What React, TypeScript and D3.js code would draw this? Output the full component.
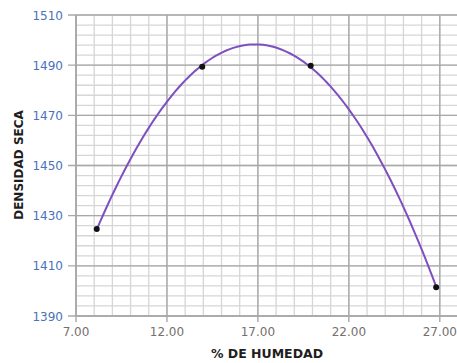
import React from "react";
import * as d3 from "d3";

// moisture (%) vs dry density readings
const humedad = [8.14, 13.94, 19.9, 26.8];
const densidad = [1424.7, 1489.4, 1489.8, 1401.5];

const xTicks = [7, 12, 17, 22, 27];
const yTicks = [1390, 1410, 1430, 1450, 1470, 1490, 1510];

// least squares fit of a 2nd order polynomial (the chart's trendline)
function fitQuadratic(xs: number[], ys: number[]) {
  const n = xs.length;
  let s1 = 0, s2 = 0, s3 = 0, s4 = 0, t0 = 0, t1 = 0, t2 = 0;
  for (let i = 0; i < n; i++) {
    const x = xs[i], y = ys[i];
    s1 += x; s2 += x * x; s3 += x ** 3; s4 += x ** 4;
    t0 += y; t1 += x * y; t2 += x * x * y;
  }
  const m = [
    [n, s1, s2, t0],
    [s1, s2, s3, t1],
    [s2, s3, s4, t2],
  ];
  for (let c = 0; c < 3; c++) {
    for (let r = c + 1; r < 3; r++) {
      const f = m[r][c] / m[c][c];
      for (let k = c; k < 4; k++) m[r][k] -= f * m[c][k];
    }
  }
  const coef = [0, 0, 0];
  for (let r = 2; r >= 0; r--) {
    let s = m[r][3];
    for (let k = r + 1; k < 3; k++) s -= m[r][k] * coef[k];
    coef[r] = s / m[r][r];
  }
  return (x: number) => coef[0] + coef[1] * x + coef[2] * x * x;
}

const App = () => {
  const width = 457;
  const height = 363;

  const x = d3.scaleLinear().domain([7, 28]).range([76, 458]);
  const y = d3.scaleLinear().domain([1390, 1510]).range([316, 15]);

  const minorX = d3.range(7, 29, 1);
  const minorY = d3.range(1390, 1511, 4);

  const trend = fitQuadratic(humedad, densidad);
  const [x0, x1] = d3.extent(humedad) as [number, number];
  const curvePts = d3.range(0, 101).map((i) => {
    const v = x0 + ((x1 - x0) * i) / 100;
    return [v, trend(v)] as [number, number];
  });
  const line = d3
    .line<[number, number]>()
    .x((d) => x(d[0]))
    .y((d) => y(d[1]));

  const [px0, px1] = x.range();
  const [py0, py1] = y.range();

  return (
    <svg
      width={width}
      height={height}
      style={{ position: "absolute", left: 0, top: 0, background: "#fff" }}
    >
      {/* minor grid */}
      <g stroke="#d6d6d6" strokeWidth={1.3}>
        {minorX.map((v) => (
          <line key={"mx" + v} x1={x(v)} x2={x(v)} y1={py1} y2={py0} />
        ))}
        {minorY.map((v) => (
          <line key={"my" + v} x1={px0} x2={px1} y1={y(v)} y2={y(v)} />
        ))}
      </g>
      {/* major grid with tick marks past the axes */}
      <g stroke="#a8a8a8" strokeWidth={1.4}>
        {xTicks.map((v) => (
          <line key={"Mx" + v} x1={x(v)} x2={x(v)} y1={py1} y2={py0 + 6} />
        ))}
        {yTicks.map((v) => (
          <line key={"My" + v} x1={px0 - 8} x2={px1} y1={y(v)} y2={y(v)} />
        ))}
      </g>
      <line x1={px0} x2={px0} y1={py1} y2={py0} stroke="#a8a8a8" strokeWidth={1.6} />
      <line x1={px0} x2={px1} y1={py0} y2={py0} stroke="#a8a8a8" strokeWidth={1.6} />

      {/* tick labels */}
      <g fontFamily="DejaVu Sans" fontSize={12} fill="#4a72b8" textAnchor="end">
        {yTicks.map((v) => (
          <text key={"yl" + v} x={63} y={y(v) + 4.5}>
            {v}
          </text>
        ))}
      </g>
      <g fontFamily="DejaVu Sans" fontSize={12} fill="#75706e" textAnchor="middle">
        {xTicks.map((v) => (
          <text key={"xl" + v} x={x(v)} y={336}>
            {v.toFixed(2)}
          </text>
        ))}
      </g>

      {/* axis titles */}
      <text
        x={267}
        y={358}
        textAnchor="middle"
        fontFamily="DejaVu Sans"
        fontWeight="bold"
        fontSize={12.5}
        fill="#1e1e1e"
      >
        % DE HUMEDAD
      </text>
      <text
        transform="translate(23,165) rotate(-90)"
        textAnchor="middle"
        fontFamily="DejaVu Sans"
        fontWeight="bold"
        fontSize={12}
        fill="#1e1e1e"
      >
        DENSIDAD SECA
      </text>

      {/* trendline and readings */}
      <path d={line(curvePts) ?? ""} fill="none" stroke="#7d4fc0" strokeWidth={2} />
      {humedad.map((h, i) => (
        <circle key={"p" + i} cx={x(h)} cy={y(densidad[i])} r={3} fill="#111" />
      ))}
    </svg>
  );
};

export default App;
